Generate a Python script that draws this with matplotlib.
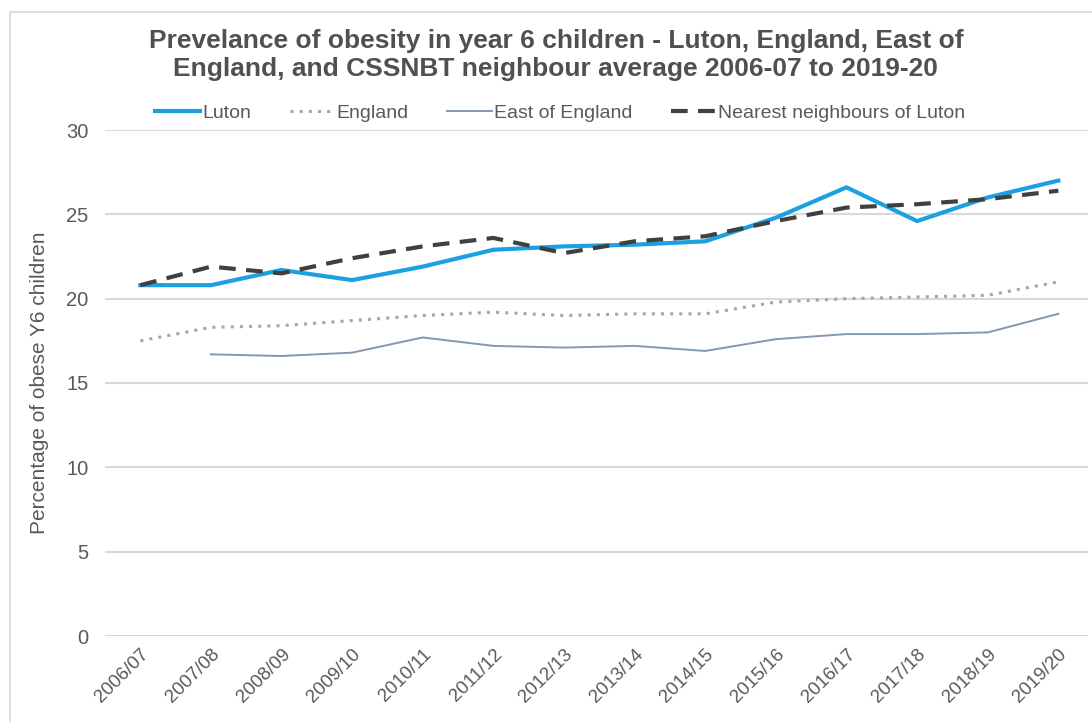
import matplotlib
matplotlib.use("Agg")
import matplotlib.pyplot as plt
from matplotlib.patches import Rectangle

plt.rcParams["font.family"] = ["Liberation Sans", "DejaVu Sans"]

years = ["2006/07", "2007/08", "2008/09", "2009/10", "2010/11", "2011/12", "2012/13",
         "2013/14", "2014/15", "2015/16", "2016/17", "2017/18", "2018/19", "2019/20"]
luton = [20.8, 20.8, 21.7, 21.1, 21.9, 22.9, 23.1, 23.2, 23.4, 24.8, 26.6, 24.6, 26.0, 27.0]
england = [17.5, 18.3, 18.4, 18.7, 19.0, 19.2, 19.0, 19.1, 19.1, 19.8, 20.0, 20.1, 20.2, 21.0]
east_of_england = [None, 16.7, 16.6, 16.8, 17.7, 17.2, 17.1, 17.2, 16.9, 17.6, 17.9, 17.9, 18.0, 19.1]
neighbours = [20.8, 21.9, 21.5, 22.4, 23.1, 23.6, 22.7, 23.4, 23.7, 24.6, 25.4, 25.6, 25.9, 26.4]

x = list(range(len(years)))
eoe_x = [i for i, v in zip(x, east_of_england) if v is not None]
eoe_y = [v for v in east_of_england if v is not None]

grey_text = "#595959"

fig = plt.figure(figsize=(10.92, 7.22), dpi=100)
# thin frame round the chart area (runs off the right and bottom edges)
fig.patches.append(Rectangle((10 / 1092, -0.05), 1.1, 1 - 12 / 722 + 0.05,
                             transform=fig.transFigure, fill=False,
                             edgecolor="#d9d9d9", linewidth=1.2))

ax = fig.add_axes([105 / 1092, 86 / 722, (1088 - 105) / 1092, 506 / 722])

ax.plot(x, luton, color="#1ba1e2", lw=3, label="Luton", zorder=4)
ax.plot(x, england, color="#a6a6a6", lw=2.2, linestyle=(0, (1, 2)), label="England", zorder=3)
ax.plot(eoe_x, eoe_y, color="#8497b0", lw=1.4, label="East of England", zorder=3)
ax.plot(x, neighbours, color="#404040", lw=3, linestyle=(0, (4, 2.5)),
        label="Nearest neighbours of Luton", zorder=5)

ax.set_xlim(-0.5, 13.42)
ax.set_ylim(0, 30)
ax.set_yticks(range(0, 31, 5))
ax.set_xticks(x)
ax.set_xticklabels(years, rotation=45, ha="right", rotation_mode="anchor")
ax.tick_params(axis="both", length=0, colors=grey_text)
ax.tick_params(axis="y", pad=12, labelsize=14.5)
ax.tick_params(axis="x", pad=7, labelsize=13.5)
ax.grid(axis="y", color="#d9d9d9", lw=1.5)
ax.set_axisbelow(True)
for s in ax.spines.values():
    s.set_visible(False)

ax.set_ylabel("Percentage of obese Y6 children", color=grey_text, fontsize=15, labelpad=12)

fig.text(0.509, 0.924, "Prevelance of obesity in year 6 children - Luton, England, East of\n"
         "England, and CSSNBT neighbour average 2006-07 to 2019-20",
         ha="center", va="center", fontsize=19, fontweight="bold", color="#505050",
         linespacing=1.2)

fig.legend(loc="center", bbox_to_anchor=(0.513, 0.843), ncol=4, frameon=False,
           fontsize=14, labelcolor=grey_text, handlelength=2.3, handletextpad=0.1,
           columnspacing=2.0)

fig.savefig("out.png", dpi=100, facecolor="white")
